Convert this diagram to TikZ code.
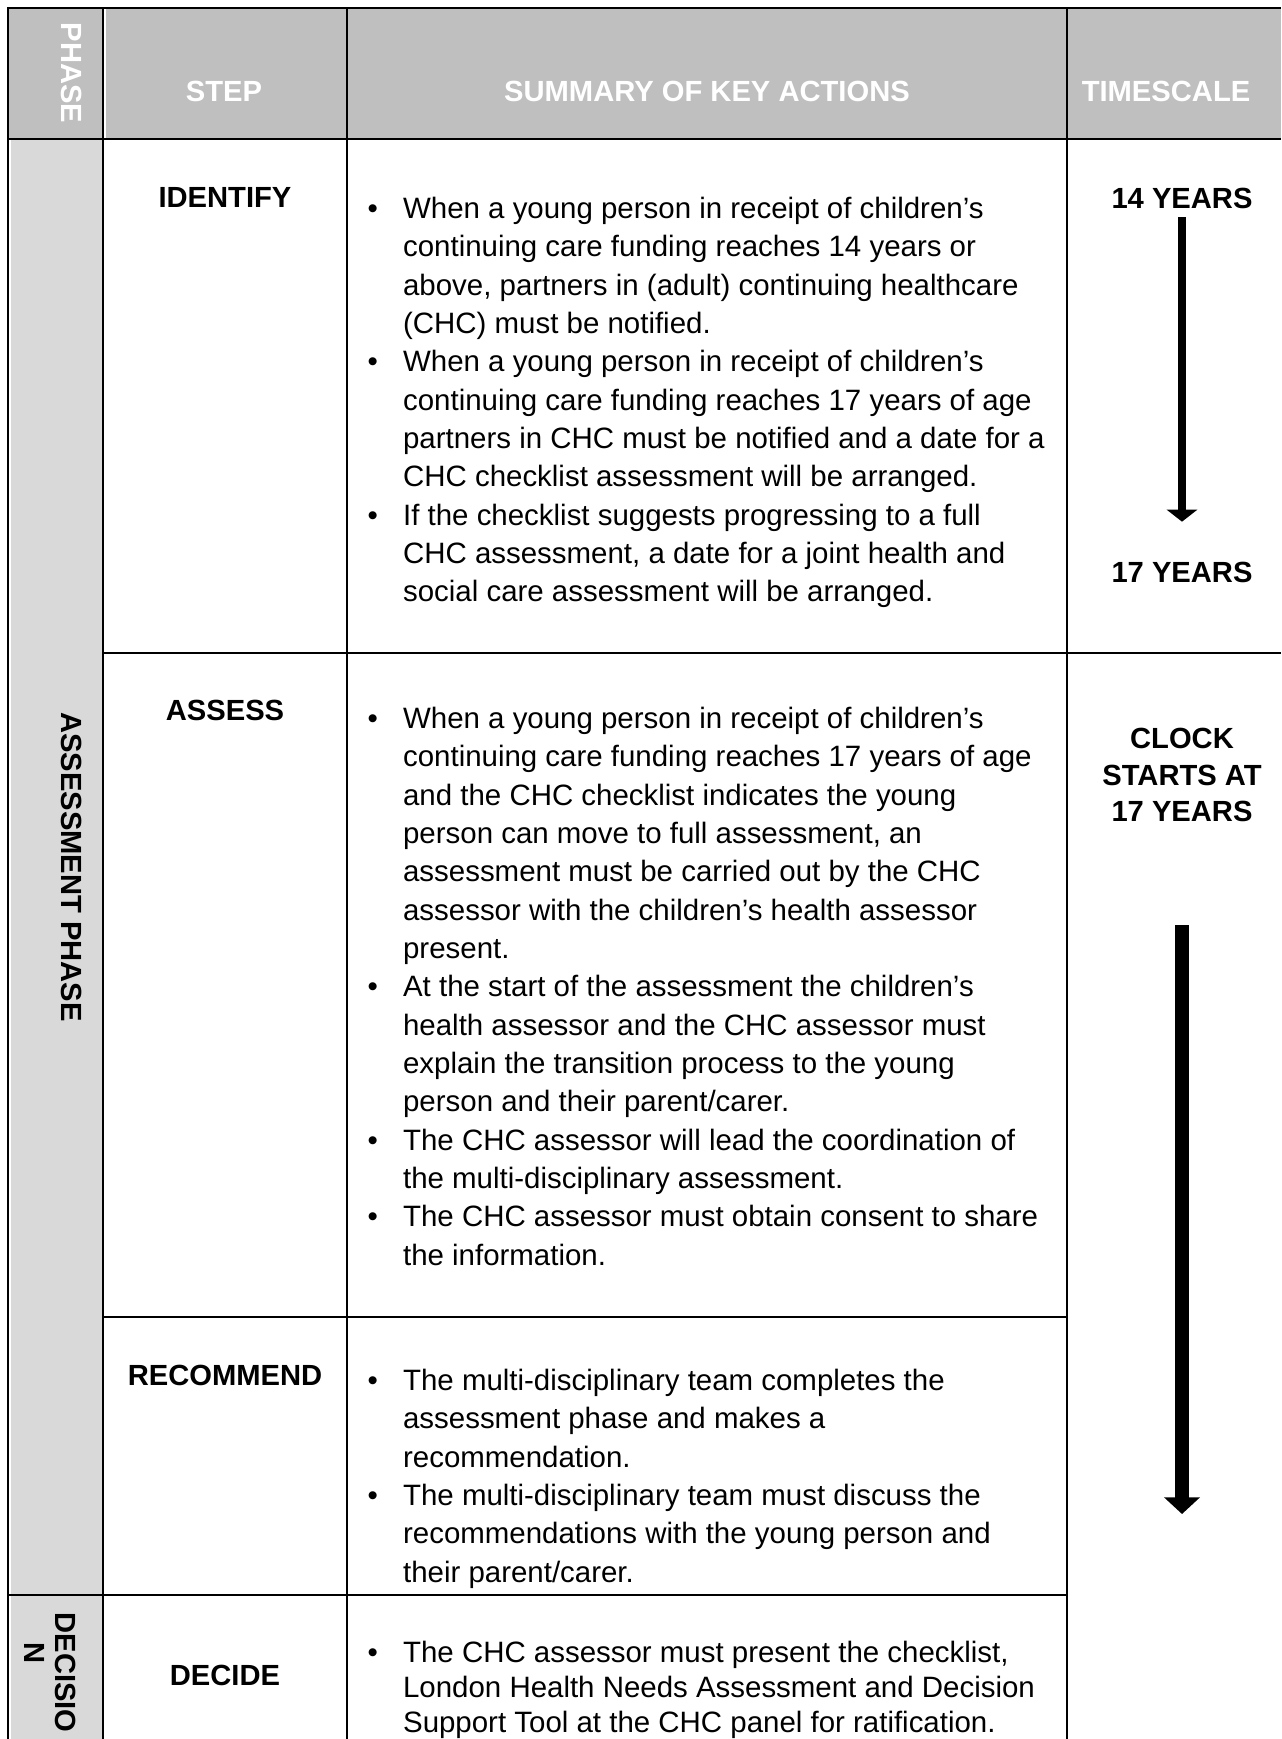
\documentclass[tikz,border=0pt]{standalone}
\usepackage{fontspec}
\setmainfont{Liberation Sans}
\usetikzlibrary{arrows.meta}
\definecolor{HeadGrey}{HTML}{BFBFBF}
\definecolor{PhaseGrey}{HTML}{D9D9D9}
\newlength{\bulw}\setlength{\bulw}{12.8pt}
\newcommand{\bpt}{\makebox[\bulw][l]{\textbullet}}
\newcommand{\bcont}{\hspace*{\bulw}}

\begin{document}
\begin{tikzpicture}[x=0.36pt,y=-0.36pt,
  tablerule/.style={line width=0.9pt},
  headtext/.style={text=white,font=\fontsize{10.5}{12.6}\selectfont\bfseries,inner sep=0pt},
  steptext/.style={font=\fontsize{10.5}{12.6}\selectfont\bfseries,inner sep=0pt},
  phasetext/.style={font=\fontsize{10.5}{11.2}\selectfont\bfseries,inner sep=0pt,rotate=-90},
  actiontext/.style={anchor=north west,align=left,inner sep=0pt,font=\fontsize{10.6}{13.8}\selectfont},
  timetext/.style={font=\fontsize{10.5}{13.3}\selectfont\bfseries,align=center,inner sep=0pt},
  timearrow/.style={-{Triangle[width=10.8pt,length=4.3pt]},line width=3.2pt}]
  \useasboundingbox (0,0) rectangle (1281,1739);
  % shading
  \fill[HeadGrey] (8,8) rectangle (103,139);
  \fill[HeadGrey] (106,8) rectangle (1281,139);
  \fill[PhaseGrey] (11,139) rectangle (103,1739);
  % table rules
  \draw[tablerule] (8,8) -- (1281,8);
  \draw[tablerule] (8,7) -- (8,1739);
  \draw[tablerule] (8,139) -- (1281,139);
  \draw[tablerule] (103,8) -- (103,1739);
  \draw[tablerule] (347,8) -- (347,1739);
  \draw[tablerule] (1067,8) -- (1067,1739);
  \draw[tablerule] (103,653) -- (1281,653);
  \draw[tablerule] (103,1317) -- (1067,1317);
  \draw[tablerule] (8,1595) -- (1067,1595);
  % header
  \node[headtext,rotate=-90] (hphase) at (72,73) {PHASE};
  \node[headtext] (hstep) at (224,91) {STEP};
  \node[headtext] (hsummary) at (707,91) {SUMMARY OF KEY ACTIONS};
  \node[headtext] (htime) at (1166,91) {TIMESCALE};
  % phases
  \node[phasetext] (passess) at (72,867) {ASSESSMENT PHASE};
  \node[phasetext,align=left,anchor=north west] (pdecide) at (76.5,1612) {DECISIO\\\hspace*{10.8pt}N};
  % steps
  \node[steptext] (sidentify) at (225,197) {IDENTIFY};
  \node[steptext] (sassess) at (225,710) {ASSESS};
  \node[steptext] (srecommend) at (225,1375) {RECOMMEND};
  \node[steptext] (sdecide) at (225,1675) {DECIDE};
  % key actions
  \node[actiontext] (aidentify) at (367,191) {\strut\bpt When a young person in receipt of children’s\\
    \bcont continuing care funding reaches 14 years or\\
    \bcont above, partners in (adult) continuing healthcare\\
    \bcont (CHC) must be notified.\\
    \bpt When a young person in receipt of children’s\\
    \bcont continuing care funding reaches 17 years of age\\
    \bcont partners in CHC must be notified and a date for a\\
    \bcont CHC checklist assessment will be arranged.\\
    \bpt If the checklist suggests progressing to a full\\
    \bcont CHC assessment, a date for a joint health and\\
    \bcont social care assessment will be arranged.};
  \node[actiontext] (aassess) at (367,701) {\strut\bpt When a young person in receipt of children’s\\
    \bcont continuing care funding reaches 17 years of age\\
    \bcont and the CHC checklist indicates the young\\
    \bcont person can move to full assessment, an\\
    \bcont assessment must be carried out by the CHC\\
    \bcont assessor with the children’s health assessor\\
    \bcont present.\\
    \bpt At the start of the assessment the children’s\\
    \bcont health assessor and the CHC assessor must\\
    \bcont explain the transition process to the young\\
    \bcont person and their parent/carer.\\
    \bpt The CHC assessor will lead the coordination of\\
    \bcont the multi-disciplinary assessment.\\
    \bpt The CHC assessor must obtain consent to share\\
    \bcont the information.};
  \node[actiontext] (arecommend) at (367,1363) {\strut\bpt The multi-disciplinary team completes the\\
    \bcont assessment phase and makes a\\
    \bcont recommendation.\\
    \bpt The multi-disciplinary team must discuss the\\
    \bcont recommendations with the young person and\\
    \bcont their parent/carer.};
  \node[actiontext,font=\fontsize{10.6}{12.6}\selectfont] (adecide) at (367,1637) {\strut\bpt The CHC assessor must present the checklist,\\
    \bcont London Health Needs Assessment and Decision\\
    \bcont Support Tool at the CHC panel for ratification.};
  % timescale
  \node[timetext] (y14) at (1182,198) {14 YEARS};
  \node[timetext] (y17) at (1182,572) {17 YEARS};
  \node[timetext] (clock) at (1182,775) {CLOCK\\STARTS AT\\17 YEARS};
  \coordinate (clockend) at (1182,1514);
  \draw[timearrow,shorten <=3.1pt,shorten >=14.2pt] (y14) -- (y17);
  \draw[timearrow,line width=5pt,-{Triangle[width=12.6pt,length=6pt]},shorten <=36.9pt] (clock) -- (clockend);
\end{tikzpicture}
\end{document}
